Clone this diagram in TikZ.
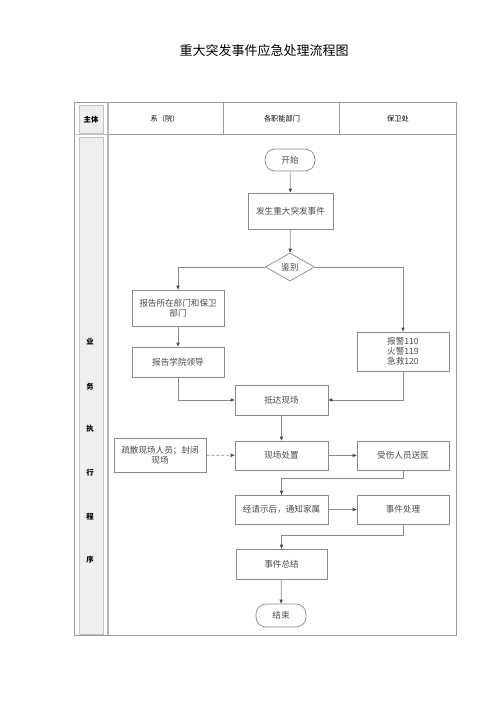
\documentclass[tikz,border=0pt]{standalone}
\usepackage{fontspec}
\setmainfont{Noto Sans CJK SC}
\usetikzlibrary{arrows.meta,shapes.geometric}
\definecolor{frame}{HTML}{9A9A9A}
\definecolor{lgray}{HTML}{EFEFEF}
\definecolor{ink}{HTML}{4A4A4A}
\definecolor{edge}{HTML}{8A8A8A}
\tikzset{
  box/.style={draw=edge, line width=0.7pt, fill=white, text=ink, font=\fontsize{8.6}{10.5}\selectfont,
    minimum width=92pt, minimum height=30pt, inner sep=1pt, align=center},
  term/.style={draw=edge, line width=0.7pt, fill=white, text=ink, font=\fontsize{8.6}{10.5}\selectfont,
    rounded corners=10pt, minimum width=50pt, minimum height=22pt, inner sep=1pt},
  dia/.style={draw=edge, line width=0.7pt, fill=white, text=ink, font=\fontsize{8.6}{10.5}\selectfont,
    diamond, aspect=1.75, minimum width=49pt, minimum height=28pt, inner sep=0pt},
  flow/.style={draw=edge, line width=0.7pt, -{Triangle[length=4pt,width=3.2pt,fill=ink,color=ink]}},
  hdr/.style={font=\fontsize{7.2}{8}\selectfont, text=black},
  colch/.style={font=\bfseries\fontsize{7.4}{8}\selectfont, text=black},
  fr/.style={draw=frame, line width=0.8pt},
}
\begin{document}
\begin{tikzpicture}[x=1pt,y=-1pt]
\useasboundingbox (0,0) rectangle (500,707);
\fill[white] (0,0) rectangle (500,707);
% title
\node[font=\fontsize{13}{15}\selectfont, text=black] (title) at (264,51) {重大突发事件应急处理流程图};
% frame
\draw[fr] (74,102) rectangle (456,635);
\fill[lgray] (79,105) rectangle (103,133);
\draw[draw=frame!60, line width=0.5pt] (79,105) rectangle (103,133);
\fill[lgray] (79,137) rectangle (103,634);
\draw[draw=frame!60, line width=0.5pt] (79,137) rectangle (103,634);
\draw[draw=frame!70, line width=1.2pt] (108,102) -- (108,635);
\draw[fr] (108,134) -- (456,134);
\draw[draw=frame!60, line width=0.5pt] (74,134) -- (108,134);
\draw[fr] (223,102) -- (223,134);
\draw[fr] (339,102) -- (339,134);
% header texts
\node[hdr, font=\bfseries\fontsize{7.4}{8}\selectfont] (h0) at (91,119.5) {主体};
\node[hdr] (h1) at (165,119) {系（院）};
\node[hdr] (h2) at (282,119) {各职能部门};
\node[hdr] (h3) at (398,119) {保卫处};
% column texts
\node[colch] (c1) at (90,342) {业};
\node[colch] (c2) at (90,387) {务};
\node[colch] (c3) at (90,429) {执};
\node[colch] (c4) at (90,473) {行};
\node[colch] (c5) at (90,517) {程};
\node[colch] (c6) at (90,560) {序};
% nodes
\node[term] (start) at (290,160) {开始};
\node[box, minimum width=85pt, minimum height=36pt] (occur) at (290.5,211) {发生重大突发事件};
\node[dia] (judge) at (290,267) {鉴别};
\node[box, minimum height=36pt] (rep1) at (178,308) {报告所在部门和保卫\\部门};
\node[box] (rep2) at (178,362) {报告学院领导};
\node[box, minimum height=39pt, font=\fontsize{8.6}{10}\selectfont] (alarm) at (403,351.5) {报警110\\火警119\\急救120};
\node[box, minimum width=93pt] (arrive) at (281.5,400) {抵达现场};
\node[box, minimum height=34pt] (evac) at (160,455) {疏散现场人员；封闭\\现场};
\node[box, minimum width=93pt, minimum height=29pt] (handle) at (281.5,455.5) {现场处置};
\node[box, minimum height=29pt] (injured) at (403,455.5) {受伤人员送医};
\node[box, minimum width=93pt, minimum height=29pt] (notify) at (281.5,509.5) {经请示后，通知家属};
\node[box, minimum height=29pt] (process) at (403,509.5) {事件处理};
\node[box, minimum width=91pt] (summary) at (281.5,564) {事件总结};
\node[term, minimum height=23pt] (end) at (281,615.5) {结束};
\coordinate (j1) at (403,478);
\coordinate (j2) at (403,535);
% connectors
\draw[flow] (start) -- (occur);
\draw[flow] (occur) -- (judge);
\draw[flow] (judge.west) -| (rep1.north);
\draw[flow] (judge.east) -| (alarm.north);
\draw[flow] (rep1) -- (rep2);
\draw[flow] (rep2.south) |- (arrive.west);
\draw[flow] (alarm.south) |- (arrive.east);
\draw[flow] (arrive) -- (handle);
\draw[flow, dashed, dash pattern=on 3pt off 2pt] (evac) -- (handle);
\draw[flow] (handle) -- (injured);
\draw[flow] (injured.south) -- (j1) -| (notify.north);
\draw[flow] (notify) -- (process);
\draw[flow] (process.south) -- (j2) -| (summary.north);
\draw[flow] (summary) -- (end);
\end{tikzpicture}
\end{document}
